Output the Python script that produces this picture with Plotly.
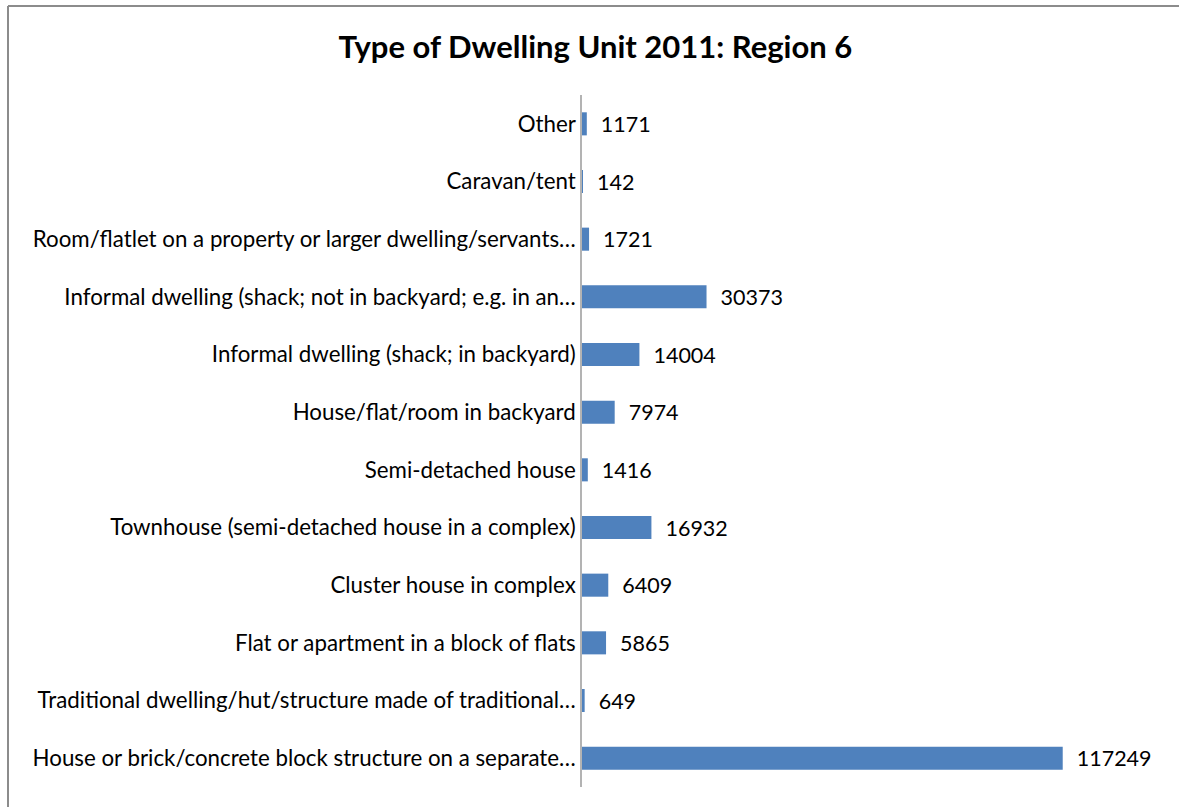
import plotly.graph_objects as go

# Dwelling types, listed bottom-to-top as they appear on the category axis
categories = [
    "House or brick/concrete block structure on a separate…",
    "Traditional dwelling/hut/structure made of traditional…",
    "Flat or apartment in a block of flats",
    "Cluster house in complex",
    "Townhouse (semi-detached house in a complex)",
    "Semi-detached house",
    "House/flat/room in backyard",
    "Informal dwelling (shack; in backyard)",
    "Informal dwelling (shack; not in backyard; e.g. in an…",
    "Room/flatlet on a property or larger dwelling/servants…",
    "Caravan/tent",
    "Other",
]
households = [117249, 649, 5865, 6409, 16932, 1416, 7974, 14004, 30373, 1721, 142, 1171]
value_labels = ["\u00a0\u00a0" + str(v) for v in households]

title_text = "Type of Dwelling Unit 2011: Region 6"

W, H = 1179, 807
L, R, T, B = 582, 23, 95, 20
font_family = "Lato, 'Open Sans', sans-serif"

fig = go.Figure(
    go.Bar(
        x=households,
        y=categories,
        orientation="h",
        marker=dict(color="#4F81BD", line=dict(width=0)),
        text=value_labels,
        textposition="outside",
        constraintext="none",
        textfont=dict(family=font_family, size=21.5, color="#000000"),
        cliponaxis=False,
        hoverinfo="skip",
    )
)

plot_w = W - L - R
plot_h = H - T - B

def px_x(px):
    return (px - L) / plot_w

def px_y(py):
    return (H - B - py) / plot_h

fig.update_layout(
    width=W,
    height=H,
    margin=dict(l=L, r=R, t=T, b=B, pad=0),
    paper_bgcolor="white",
    plot_bgcolor="white",
    bargap=0.6,
    showlegend=False,
    title=dict(
        text="<b>" + title_text + "</b>",
        x=0.505,
        xanchor="center",
        y=1 - 47 / H,
        yanchor="middle",
        font=dict(family=font_family, size=31, color="#000000"),
    ),
    xaxis=dict(
        range=[0, 140000],
        showgrid=False,
        zeroline=False,
        showline=False,
        showticklabels=False,
        ticks="",
        fixedrange=True,
    ),
    yaxis=dict(
        showgrid=False,
        zeroline=False,
        showline=True,
        linecolor="#B3B3B3",
        linewidth=1.5,
        ticks="",
        ticklabelstandoff=0,
        tickfont=dict(family=font_family, size=22.3, color="#000000"),
        fixedrange=True,
    ),
    shapes=[
        # chart frame: left and top edges
        dict(type="line", xref="paper", yref="paper",
             x0=px_x(8), x1=px_x(8), y0=px_y(6), y1=px_y(H + 10),
             line=dict(color="#8C8C8C", width=2)),
        dict(type="line", xref="paper", yref="paper",
             x0=px_x(8), x1=px_x(W + 10), y0=px_y(6), y1=px_y(6),
             line=dict(color="#8C8C8C", width=2)),
    ],
)

fig.write_html("out.html")
